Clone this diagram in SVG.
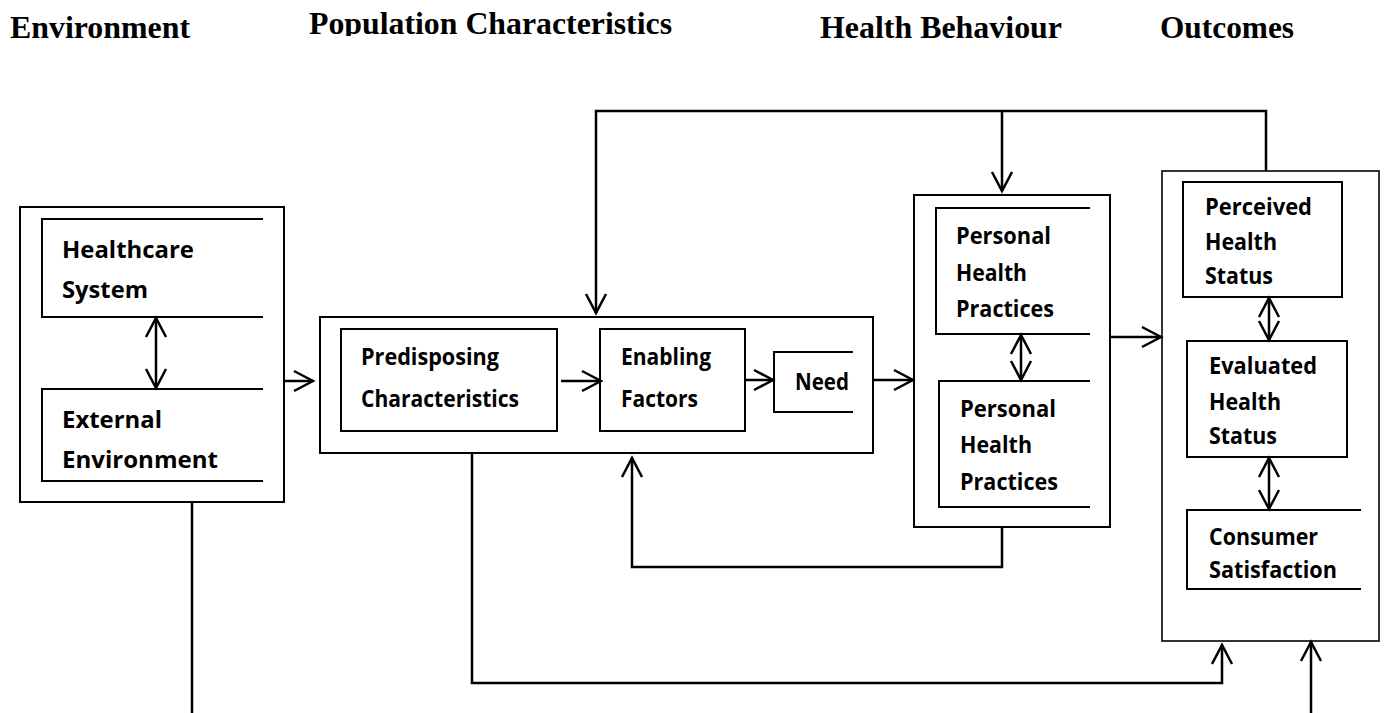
<svg xmlns="http://www.w3.org/2000/svg" width="1384" height="713" viewBox="0 0 1384 713">
<style>
.box{fill:none;stroke:#000;stroke-width:2}
.con{fill:none;stroke:#000;stroke-width:2.5}
.t{font-family:"Open Sans","Liberation Sans",sans-serif;font-weight:700;font-size:23px;fill:#000}
.h{font-family:"Liberation Serif","Times New Roman",serif;font-weight:700;font-size:32px;fill:#000}
</style>
<defs>
<marker id="arr" markerUnits="userSpaceOnUse" markerWidth="24" markerHeight="24" viewBox="0 0 24 24" refX="20" refY="12" orient="auto-start-reverse">
<path d="M1,2 L20,12 L1,22" fill="none" stroke="#000" stroke-width="2.5"/>
</marker>
<clipPath id="popclip"><rect x="0" y="0" width="1384" height="36"/></clipPath>
</defs>

<g id="headings">
<text class="h" x="10" y="38" textLength="180" lengthAdjust="spacingAndGlyphs">Environment</text>
<text class="h" x="309" y="34" textLength="363" lengthAdjust="spacingAndGlyphs" clip-path="url(#popclip)">Population Characteristics</text>
<text class="h" x="820" y="38" textLength="242" lengthAdjust="spacingAndGlyphs">Health Behaviour</text>
<text class="h" x="1160" y="38" textLength="134" lengthAdjust="spacingAndGlyphs">Outcomes</text>
</g>

<g id="environment">
<rect class="box" x="20" y="207" width="264" height="295"/>
<g id="healthcare-system">
<path class="box" d="M263,219 H42 V317 H263"/>
<text class="t" x="62" y="258" textLength="132" lengthAdjust="spacingAndGlyphs">Healthcare</text>
<text class="t" x="62" y="298" textLength="86" lengthAdjust="spacingAndGlyphs">System</text>
</g>
<g id="external-environment">
<path class="box" d="M263,389 H42 V481 H263"/>
<text class="t" x="62" y="428" textLength="100" lengthAdjust="spacingAndGlyphs">External</text>
<text class="t" x="62" y="468" textLength="156" lengthAdjust="spacingAndGlyphs">Environment</text>
</g>
</g>

<g id="population">
<rect class="box" x="320" y="317" width="553" height="136"/>
<g id="predisposing">
<rect class="box" x="341" y="329" width="216" height="102"/>
<text class="t" x="361" y="365" textLength="138" lengthAdjust="spacingAndGlyphs">Predisposing</text>
<text class="t" x="361" y="407" textLength="158" lengthAdjust="spacingAndGlyphs">Characteristics</text>
</g>
<g id="enabling">
<rect class="box" x="600" y="329" width="145" height="102"/>
<text class="t" x="621" y="365" textLength="90" lengthAdjust="spacingAndGlyphs">Enabling</text>
<text class="t" x="621" y="407" textLength="77" lengthAdjust="spacingAndGlyphs">Factors</text>
</g>
<g id="need">
<path class="box" d="M853,352 H774 V412 H853"/>
<text class="t" x="795" y="390" textLength="54" lengthAdjust="spacingAndGlyphs">Need</text>
</g>
</g>

<g id="health-behaviour">
<rect class="box" x="914" y="195" width="196" height="332"/>
<g id="practices-1">
<path class="box" d="M1090,208 H936 V334 H1090"/>
<text class="t" x="956" y="244" textLength="95" lengthAdjust="spacingAndGlyphs">Personal</text>
<text class="t" x="956" y="281" textLength="71" lengthAdjust="spacingAndGlyphs">Health</text>
<text class="t" x="956" y="317" textLength="98" lengthAdjust="spacingAndGlyphs">Practices</text>
</g>
<g id="practices-2">
<path class="box" d="M1090,381 H939 V507 H1090"/>
<text class="t" x="960" y="417" textLength="96" lengthAdjust="spacingAndGlyphs">Personal</text>
<text class="t" x="960" y="453" textLength="72" lengthAdjust="spacingAndGlyphs">Health</text>
<text class="t" x="960" y="490" textLength="98" lengthAdjust="spacingAndGlyphs">Practices</text>
</g>
</g>

<g id="outcomes">
<rect class="box" x="1162" y="171" width="217" height="470" style="stroke-width:1.6"/>
<g id="perceived">
<rect class="box" x="1183" y="182" width="159" height="115"/>
<text class="t" x="1205" y="215" textLength="107" lengthAdjust="spacingAndGlyphs">Perceived</text>
<text class="t" x="1205" y="250" textLength="72" lengthAdjust="spacingAndGlyphs">Health</text>
<text class="t" x="1205" y="284" textLength="68" lengthAdjust="spacingAndGlyphs">Status</text>
</g>
<g id="evaluated">
<rect class="box" x="1187" y="341" width="160" height="116"/>
<text class="t" x="1209" y="374" textLength="108" lengthAdjust="spacingAndGlyphs">Evaluated</text>
<text class="t" x="1209" y="410" textLength="72" lengthAdjust="spacingAndGlyphs">Health</text>
<text class="t" x="1209" y="444" textLength="68" lengthAdjust="spacingAndGlyphs">Status</text>
</g>
<g id="consumer">
<path class="box" d="M1361,510 H1187 V589 H1361"/>
<text class="t" x="1209" y="545" textLength="109" lengthAdjust="spacingAndGlyphs">Consumer</text>
<text class="t" x="1209" y="578" textLength="128" lengthAdjust="spacingAndGlyphs">Satisfaction</text>
</g>
</g>

<g id="connectors">
<line class="con" x1="284" y1="381" x2="313" y2="381" marker-end="url(#arr)"/>
<line class="con" x1="156" y1="318" x2="156" y2="388" marker-start="url(#arr)" marker-end="url(#arr)"/>
<line class="con" x1="561" y1="381" x2="601" y2="381" marker-end="url(#arr)"/>
<line class="con" x1="745" y1="380" x2="773" y2="380" marker-end="url(#arr)"/>
<line class="con" x1="873" y1="380" x2="913" y2="380" marker-end="url(#arr)"/>
<line class="con" x1="1021" y1="335" x2="1021" y2="380" marker-start="url(#arr)" marker-end="url(#arr)"/>
<line class="con" x1="1110" y1="337" x2="1161" y2="337" marker-end="url(#arr)"/>
<line class="con" x1="1269" y1="298" x2="1269" y2="340" marker-start="url(#arr)" marker-end="url(#arr)"/>
<line class="con" x1="1269" y1="458" x2="1269" y2="509" marker-start="url(#arr)" marker-end="url(#arr)"/>
<polyline class="con" points="1266,171 1266,111 596,111 596,313" marker-end="url(#arr)"/>
<line class="con" x1="1002" y1="111" x2="1002" y2="191" marker-end="url(#arr)"/>
<polyline class="con" points="1002,527 1002,567 632,567 632,458" marker-end="url(#arr)"/>
<polyline class="con" points="472,453 472,683 1222,683 1222,645" marker-end="url(#arr)"/>
<line class="con" x1="1311" y1="713" x2="1311" y2="642" marker-end="url(#arr)"/>
<line class="con" x1="192" y1="502" x2="192" y2="713"/>
</g>
</svg>
